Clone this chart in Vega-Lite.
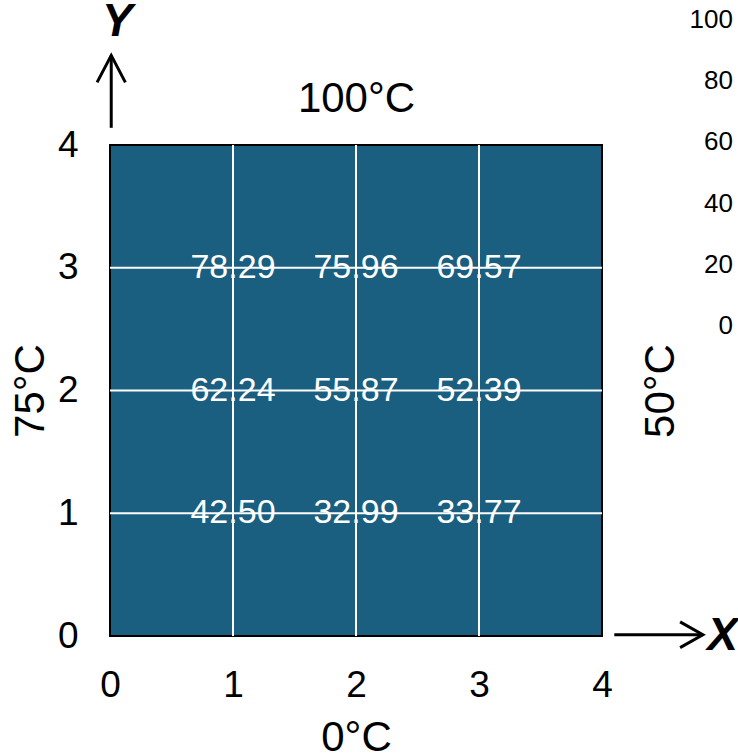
{
  "$schema": "https://vega.github.io/schema/vega-lite/v6.json",
  "autosize": {"type": "none"},
  "padding": {"left": 110, "top": 145, "right": 136, "bottom": 120},
  "width": 492,
  "height": 491,
  "background": "white",
  "config": {
    "view": {"stroke": null},
    "font": "Liberation Sans",
    "axis": {"grid": false, "domain": false, "ticks": false, "tickSize": 0, "labelFont": "Liberation Sans", "titleFont": "Liberation Sans", "labelColor": "black", "titleColor": "black", "titleFontWeight": "normal"}
  },
  "datasets": {
    "cells": [
      {"x": 1, "y": 3, "v": 78.29}, {"x": 2, "y": 3, "v": 75.96}, {"x": 3, "y": 3, "v": 69.57},
      {"x": 1, "y": 2, "v": 62.24}, {"x": 2, "y": 2, "v": 55.87}, {"x": 3, "y": 2, "v": 52.39},
      {"x": 1, "y": 1, "v": 42.50}, {"x": 2, "y": 1, "v": 32.99}, {"x": 3, "y": 1, "v": 33.77}
    ],
    "box": [{"x0": 0, "x1": 4, "y0": 0, "y1": 4}],
    "grid": [{"g": 1}, {"g": 2}, {"g": 3}],
    "arrows": [
      {"a": "ys", "o": 0, "x": 0.01, "y": 4.14},
      {"a": "ys", "o": 1, "x": 0.01, "y": 4.73},
      {"a": "yh", "o": 0, "x": -0.105, "y": 4.51},
      {"a": "yh", "o": 1, "x": 0.01, "y": 4.73},
      {"a": "yh", "o": 2, "x": 0.125, "y": 4.51},
      {"a": "xs", "o": 0, "x": 4.1, "y": 0.01},
      {"a": "xs", "o": 1, "x": 4.82, "y": 0.01},
      {"a": "xh", "o": 0, "x": 4.635, "y": 0.115},
      {"a": "xh", "o": 1, "x": 4.82, "y": 0.01},
      {"a": "xh", "o": 2, "x": 4.635, "y": -0.095}
    ],
    "axislabels": [
      {"t": "X", "x": 4.98, "y": 0.0},
      {"t": "Y", "x": 0.06, "y": 5.0}
    ]
  },
  "resolve": {"axis": {"x": "independent", "y": "independent"}},
  "layer": [
    {
      "data": {"name": "box"},
      "mark": {"type": "rect", "fill": "#1a5e80", "stroke": "black", "strokeWidth": 2},
      "encoding": {
        "x": {"field": "x0", "type": "quantitative", "scale": {"domain": [0, 4], "nice": false, "zero": false},
              "axis": {"orient": "bottom", "values": [0, 1, 2, 3, 4], "labelFontSize": 37, "labelPadding": 31, "labelFlush": false, "title": "0°C", "titleFontSize": 42, "titlePadding": 14}},
        "x2": {"field": "x1"},
        "y": {"field": "y0", "type": "quantitative", "scale": {"domain": [0, 4], "nice": false, "zero": false},
              "axis": {"orient": "left", "values": [0, 1, 2, 3, 4], "labelFontSize": 37, "labelPadding": 32, "labelFlush": false, "title": "75°C", "titleFontSize": 42, "titlePadding": 5}},
        "y2": {"field": "y1"}
      }
    },
    {
      "data": {"name": "grid"},
      "mark": {"type": "rule", "color": "white", "strokeWidth": 2},
      "encoding": {"x": {"field": "g", "type": "quantitative", "axis": null}}
    },
    {
      "data": {"name": "grid"},
      "mark": {"type": "rule", "color": "white", "strokeWidth": 2},
      "encoding": {"y": {"field": "g", "type": "quantitative", "axis": null}}
    },
    {
      "data": {"name": "cells"},
      "mark": {"type": "text", "fontSize": 34, "align": "center", "baseline": "middle", "font": "Liberation Sans"},
      "encoding": {
        "x": {"field": "x", "type": "quantitative",
              "axis": {"orient": "top", "labels": false, "title": "100°C", "titleFontSize": 42, "titlePadding": 25}},
        "y": {"field": "y", "type": "quantitative",
              "axis": {"orient": "right", "labels": false, "title": "50°C", "titleFontSize": 42, "titleAngle": 270, "titlePadding": 80}},
        "text": {"field": "v", "type": "quantitative", "format": ".2f"},
        "color": {"field": "v", "type": "quantitative", "scale": {"domain": [0, 100], "range": ["#ffffff", "#ffffff"]},
                  "legend": {"orient": "none", "legendX": 580, "legendY": -125, "direction": "vertical", "gradientLength": 306, "gradientThickness": 1, "gradientStrokeWidth": 0, "title": null, "values": [0, 20, 40, 60, 80, 100], "labelOverlap": false, "labelFontSize": 26, "labelFont": "Liberation Sans", "labelColor": "black", "labelAlign": "right", "labelBaseline": "middle", "labelOffset": 42,
                             "encode": {"labels": {"update": {"align": {"value": "right"}, "baseline": {"value": "middle"}}}}}}
      }
    },
    {
      "data": {"name": "arrows"},
      "mark": {"type": "line", "color": "black", "strokeWidth": 3, "strokeCap": "butt", "strokeJoin": "miter", "clip": false},
      "encoding": {
        "x": {"field": "x", "type": "quantitative", "axis": null},
        "y": {"field": "y", "type": "quantitative", "axis": null},
        "detail": {"field": "a"},
        "order": {"field": "o", "type": "quantitative"}
      }
    },
    {
      "data": {"name": "axislabels"},
      "mark": {"type": "text", "fontSize": 46, "fontWeight": "bold", "fontStyle": "italic", "align": "center", "baseline": "middle", "font": "Liberation Sans"},
      "encoding": {
        "x": {"field": "x", "type": "quantitative", "axis": null},
        "y": {"field": "y", "type": "quantitative", "axis": null},
        "text": {"field": "t"}
      }
    }
  ]
}
